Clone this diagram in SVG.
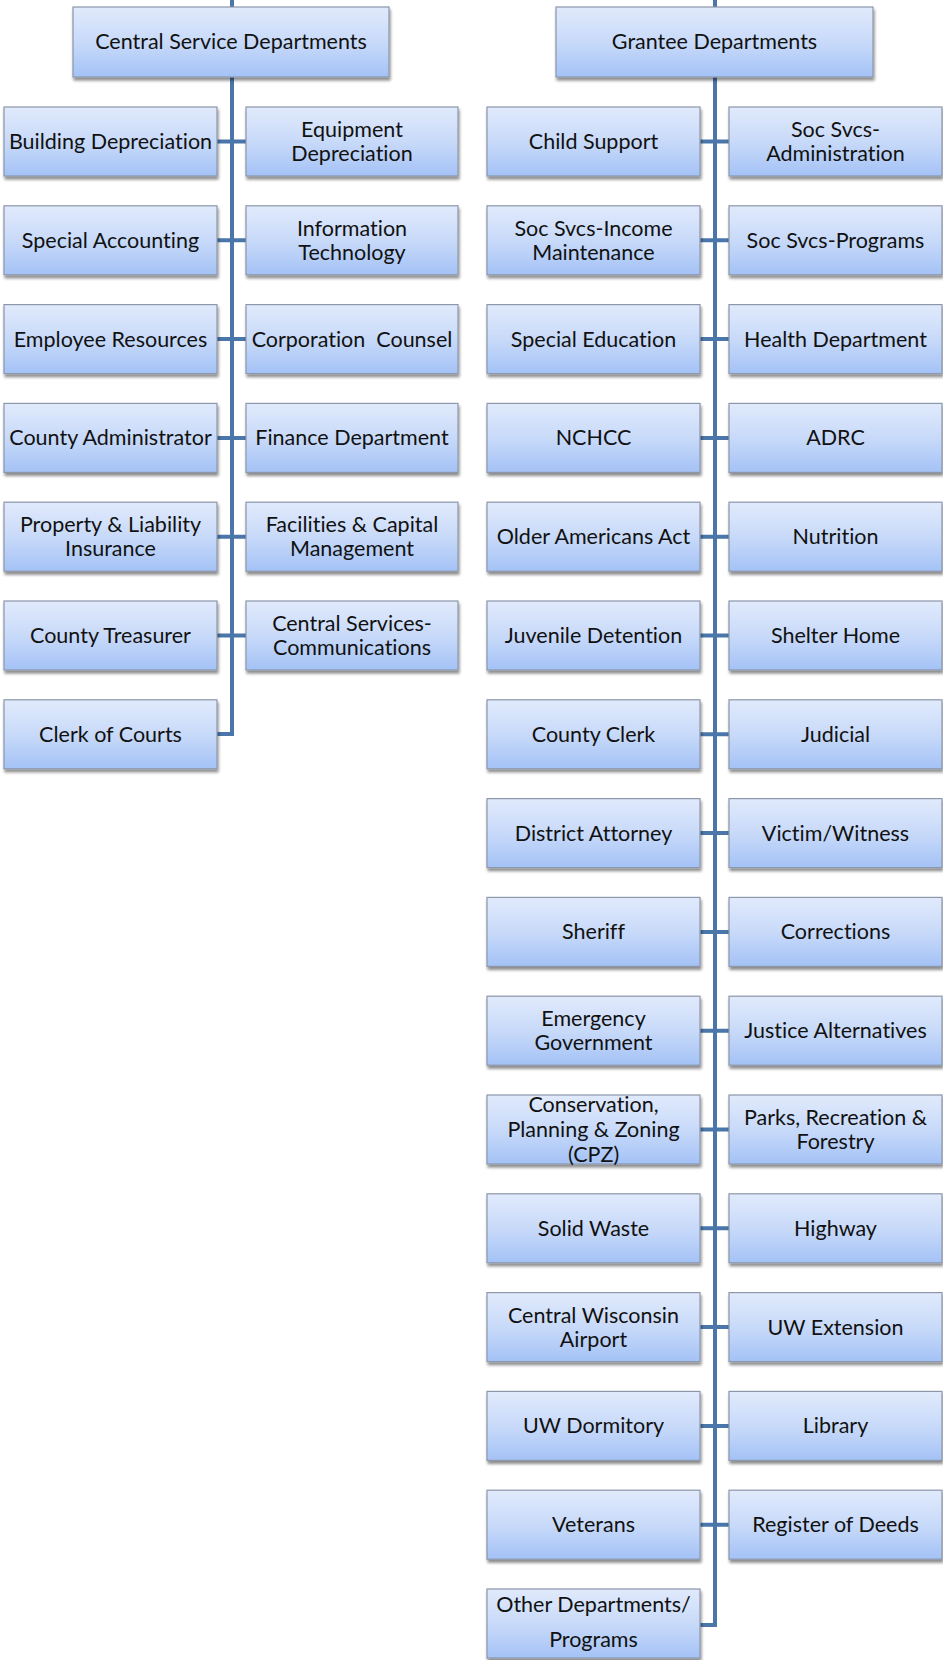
<svg xmlns="http://www.w3.org/2000/svg" width="943" height="1660" viewBox="0 0 943 1660">
<style>
  .box rect { fill: url(#g); stroke: #8c97aa; stroke-width: 1.2; filter: url(#sh); }
  .box text { font-family: Lato, "Liberation Sans", sans-serif; font-size: 21.5px; fill: #111; text-anchor: middle; font-variant-ligatures: none; }
  .conn { stroke: #4a76aa; stroke-width: 4; fill: none; }
</style>
<defs>
  <linearGradient id="g" x1="0" y1="0" x2="0" y2="1">
    <stop offset="0" stop-color="#e1eafc"/>
    <stop offset="0.5" stop-color="#c8daf9"/>
    <stop offset="1" stop-color="#a4c2f6"/>
  </linearGradient>
  <filter id="sh" x="-10%" y="-10%" width="120%" height="130%">
    <feGaussianBlur in="SourceAlpha" stdDeviation="1.5"/>
    <feOffset dx="1" dy="2.5" result="b"/>
    <feComponentTransfer><feFuncA type="linear" slope="0.45"/></feComponentTransfer>
    <feMerge><feMergeNode/><feMergeNode in="SourceGraphic"/></feMerge>
  </filter>
</defs>
<rect width="943" height="1660" fill="#fff"/>

<g id="connectors" class="conn">
  <path d="M232 0 V7"/>
  <path d="M715 0 V7"/>
  <path d="M232 77 V734 H217"/>
  <path d="M715 77 V1625 H700"/>
  <path d="M217 141.5 H246 M217 240.3 H246 M217 339.1 H246 M217 437.9 H246 M217 536.7 H246 M217 635.5 H246"/>
  <path d="M700 141.5 H729 M700 240.3 H729 M700 339.1 H729 M700 437.9 H729 M700 536.7 H729 M700 635.5 H729 M700 734.3 H729 M700 833.1 H729 M700 931.9 H729 M700 1030.7 H729 M700 1129.5 H729 M700 1228.3 H729 M700 1327.1 H729 M700 1425.9 H729 M700 1524.7 H729"/>
</g>

<g id="central" class="box"><rect x="73" y="7" width="316" height="70"/><text x="231" y="49">Central Service Departments</text></g>
<g id="grantee" class="box"><rect x="556" y="7" width="317" height="70"/><text x="714.5" y="49">Grantee Departments</text></g>

<!-- Left column -->
<g id="building-depreciation" class="box"><rect x="4" y="107" width="213" height="69"/><text x="110.5" y="149">Building Depreciation</text></g>
<g id="equipment-depreciation" class="box"><rect x="246" y="107" width="212" height="69"/><text x="352" y="137">Equipment</text><text x="352" y="161">Depreciation</text></g>
<g id="special-accounting" class="box"><rect x="4" y="205.8" width="213" height="69"/><text x="110.5" y="247.8">Special Accounting</text></g>
<g id="information-technology" class="box"><rect x="246" y="205.8" width="212" height="69"/><text x="352" y="235.8">Information</text><text x="352" y="259.8">Technology</text></g>
<g id="employee-resources" class="box"><rect x="4" y="304.6" width="213" height="69"/><text x="110.5" y="346.6">Employee Resources</text></g>
<g id="corporation-counsel" class="box"><rect x="246" y="304.6" width="212" height="69"/><text x="352" y="346.6" xml:space="preserve">Corporation  Counsel</text></g>
<g id="county-administrator" class="box"><rect x="4" y="403.4" width="213" height="69"/><text x="110.5" y="445.4">County Administrator</text></g>
<g id="finance-department" class="box"><rect x="246" y="403.4" width="212" height="69"/><text x="352" y="445.4">Finance Department</text></g>
<g id="property-liability" class="box"><rect x="4" y="502.2" width="213" height="69"/><text x="110.5" y="532.2">Property &amp; Liability</text><text x="110.5" y="556.2">Insurance</text></g>
<g id="facilities-capital" class="box"><rect x="246" y="502.2" width="212" height="69"/><text x="352" y="532.2">Facilities &amp; Capital</text><text x="352" y="556.2">Management</text></g>
<g id="county-treasurer" class="box"><rect x="4" y="601" width="213" height="69"/><text x="110.5" y="643">County Treasurer</text></g>
<g id="central-services-communications" class="box"><rect x="246" y="601" width="212" height="69"/><text x="352" y="631">Central Services-</text><text x="352" y="655">Communications</text></g>
<g id="clerk-of-courts" class="box"><rect x="4" y="699.8" width="213" height="69"/><text x="110.5" y="741.8">Clerk of Courts</text></g>

<!-- Right column -->
<g id="child-support" class="box"><rect x="487" y="107" width="213" height="69"/><text x="593.5" y="149">Child Support</text></g>
<g id="soc-svcs-administration" class="box"><rect x="729" y="107" width="213" height="69"/><text x="835.5" y="137">Soc Svcs-</text><text x="835.5" y="161">Administration</text></g>
<g id="soc-svcs-income" class="box"><rect x="487" y="205.8" width="213" height="69"/><text x="593.5" y="235.8">Soc Svcs-Income</text><text x="593.5" y="259.8">Maintenance</text></g>
<g id="soc-svcs-programs" class="box"><rect x="729" y="205.8" width="213" height="69"/><text x="835.5" y="247.8">Soc Svcs-Programs</text></g>
<g id="special-education" class="box"><rect x="487" y="304.6" width="213" height="69"/><text x="593.5" y="346.6">Special Education</text></g>
<g id="health-department" class="box"><rect x="729" y="304.6" width="213" height="69"/><text x="835.5" y="346.6">Health Department</text></g>
<g id="nchcc" class="box"><rect x="487" y="403.4" width="213" height="69"/><text x="593.5" y="445.4">NCHCC</text></g>
<g id="adrc" class="box"><rect x="729" y="403.4" width="213" height="69"/><text x="835.5" y="445.4">ADRC</text></g>
<g id="older-americans-act" class="box"><rect x="487" y="502.2" width="213" height="69"/><text x="593.5" y="544.2">Older Americans Act</text></g>
<g id="nutrition" class="box"><rect x="729" y="502.2" width="213" height="69"/><text x="835.5" y="544.2">Nutrition</text></g>
<g id="juvenile-detention" class="box"><rect x="487" y="601" width="213" height="69"/><text x="593.5" y="643">Juvenile Detention</text></g>
<g id="shelter-home" class="box"><rect x="729" y="601" width="213" height="69"/><text x="835.5" y="643">Shelter Home</text></g>
<g id="county-clerk" class="box"><rect x="487" y="699.8" width="213" height="69"/><text x="593.5" y="741.8">County Clerk</text></g>
<g id="judicial" class="box"><rect x="729" y="699.8" width="213" height="69"/><text x="835.5" y="741.8">Judicial</text></g>
<g id="district-attorney" class="box"><rect x="487" y="798.6" width="213" height="69"/><text x="593.5" y="840.6">District Attorney</text></g>
<g id="victim-witness" class="box"><rect x="729" y="798.6" width="213" height="69"/><text x="835.5" y="840.6">Victim/Witness</text></g>
<g id="sheriff" class="box"><rect x="487" y="897.4" width="213" height="69"/><text x="593.5" y="939.4">Sheriff</text></g>
<g id="corrections" class="box"><rect x="729" y="897.4" width="213" height="69"/><text x="835.5" y="939.4">Corrections</text></g>
<g id="emergency-government" class="box"><rect x="487" y="996.2" width="213" height="69"/><text x="593.5" y="1026.2">Emergency</text><text x="593.5" y="1050.2">Government</text></g>
<g id="justice-alternatives" class="box"><rect x="729" y="996.2" width="213" height="69"/><text x="835.5" y="1038.2">Justice Alternatives</text></g>
<g id="cpz" class="box"><rect x="487" y="1095" width="213" height="69"/><text x="593.5" y="1112">Conservation,</text><text x="593.5" y="1137">Planning &amp; Zoning</text><text x="593.5" y="1162">(CPZ)</text></g>
<g id="parks-recreation-forestry" class="box"><rect x="729" y="1095" width="213" height="69"/><text x="835.5" y="1125">Parks, Recreation &amp;</text><text x="835.5" y="1149">Forestry</text></g>
<g id="solid-waste" class="box"><rect x="487" y="1193.8" width="213" height="69"/><text x="593.5" y="1235.8">Solid Waste</text></g>
<g id="highway" class="box"><rect x="729" y="1193.8" width="213" height="69"/><text x="835.5" y="1235.8">Highway</text></g>
<g id="central-wisconsin-airport" class="box"><rect x="487" y="1292.6" width="213" height="69"/><text x="593.5" y="1322.6">Central Wisconsin</text><text x="593.5" y="1346.6">Airport</text></g>
<g id="uw-extension" class="box"><rect x="729" y="1292.6" width="213" height="69"/><text x="835.5" y="1334.6">UW Extension</text></g>
<g id="uw-dormitory" class="box"><rect x="487" y="1391.4" width="213" height="69"/><text x="593.5" y="1433.4">UW Dormitory</text></g>
<g id="library" class="box"><rect x="729" y="1391.4" width="213" height="69"/><text x="835.5" y="1433.4">Library</text></g>
<g id="veterans" class="box"><rect x="487" y="1490.2" width="213" height="69"/><text x="593.5" y="1532.2">Veterans</text></g>
<g id="register-of-deeds" class="box"><rect x="729" y="1490.2" width="213" height="69"/><text x="835.5" y="1532.2">Register of Deeds</text></g>
<g id="other-departments" class="box"><rect x="487" y="1589" width="213" height="69"/><text x="593.5" y="1612">Other Departments/</text><text x="593.5" y="1647">Programs</text></g>
</svg>
